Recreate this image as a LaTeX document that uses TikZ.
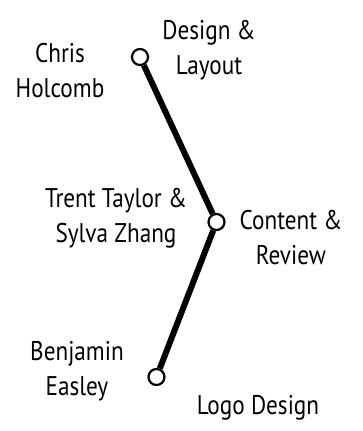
\documentclass[tikz,border=0pt]{standalone}
\usepackage{fontspec}
\setmainfont[FakeStretch=0.86]{PT Sans}
\usetikzlibrary{positioning}

\begin{document}
\begin{tikzpicture}[x=1pt,y=-1pt,
	stop/.style={circle,draw=black,line width=2.2pt,fill=white,minimum size=16pt,inner sep=0pt},
	who/.style={align=center,font=\fontsize{27}{35}\selectfont,inner sep=0pt},
	rail/.style={line width=6pt,black}]
	\useasboundingbox[fill=white] (0,0) rectangle (363,431);
	
	%stations along the line
	\node[stop] (design) at (140,57) {};
	\node[stop] (content) at (216.5,222) {};
	\node[stop] (logo) at (156.5,377) {};
	
	%the line itself
	\draw[rail] (design) -- (content);
	\draw[rail] (content) -- (logo);
	
	%people on the left, tasks on the right
	\node[who] (chris) at (60,71) {Chris\\Holcomb};
	\node[who] (designtxt) at (209,50) {Design \&\\Layout};
	\node[who] (trent) at (116,218) {Trent Taylor \&\\Sylva Zhang};
	\node[who] (contenttxt) at (291,238) {Content \&\\Review};
	\node[who] (benjamin) at (77,371) {Benjamin\\Easley};
	\node[who] (logotxt) at (258,408) {Logo Design};
\end{tikzpicture}
\end{document}
